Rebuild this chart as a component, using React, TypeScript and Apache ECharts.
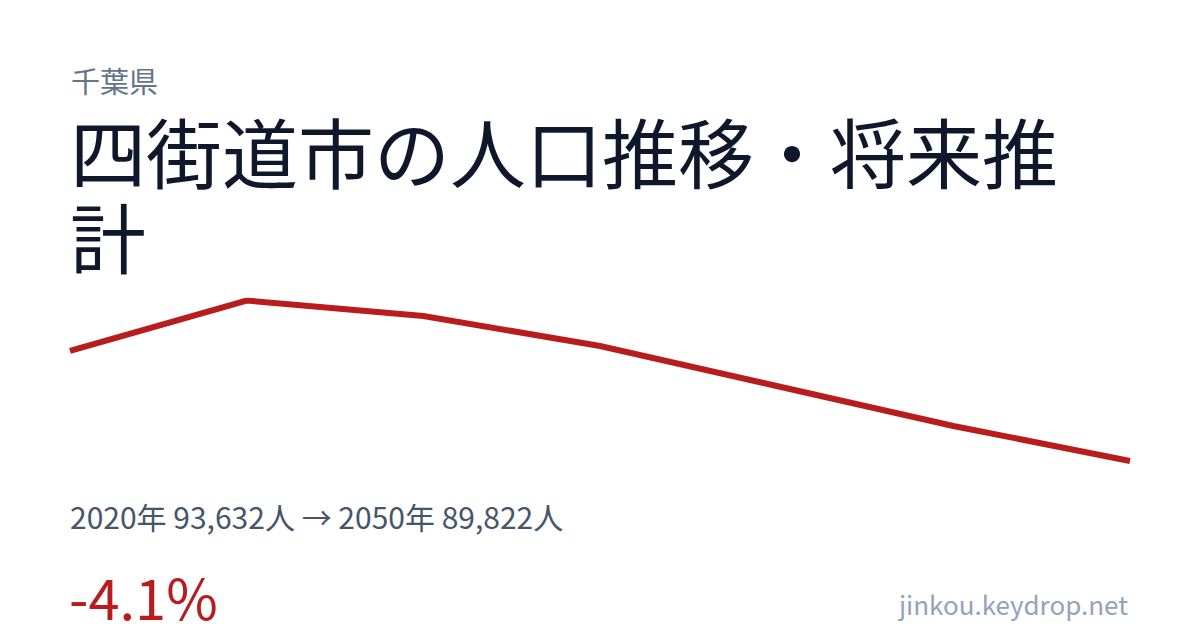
import React, { useEffect, useRef } from "react";
import * as echarts from "echarts";

const years = ["2020", "2025", "2030", "2035", "2040", "2045", "2050"];
const population = [93632, 95380, 94845, 93805, 92420, 91035, 89822];

const prefecture = "千葉県";
const titleLine1 = "四街道市の人口推移・将来推";
const titleLine2 = "計";
const statsText = "2020年 93,632人 → 2050年 89,822人";
const changeText = "-4.1%";
const siteText = "jinkou.keydrop.net";

const FONT = '"Noto Sans CJK JP", "Noto Sans", sans-serif';

export default function App() {
  const ref = useRef<HTMLDivElement>(null);
  useEffect(() => {
    if (!ref.current) return;
    const chart = echarts.init(ref.current, undefined, { renderer: "svg" });
    chart.setOption({
      animation: false,
      backgroundColor: "#ffffff",
      grid: { left: 70, right: 70, top: 300.5, bottom: 169 },
      xAxis: {
        type: "category",
        data: years,
        boundaryGap: false,
        show: false,
      },
      yAxis: {
        type: "value",
        min: "dataMin",
        max: "dataMax",
        show: false,
      },
      series: [
        {
          type: "line",
          data: population,
          symbol: "none",
          lineStyle: { color: "#b91c1c", width: 6, cap: "butt", join: "miter" },
          silent: true,
        },
      ],
      graphic: [
        {
          type: "text",
          x: 71,
          y: 80,
          style: {
            text: prefecture,
            fill: "#64748b",
            font: `29px ${FONT}`,
            verticalAlign: "middle",
            align: "left",
          },
        },
        {
          type: "text",
          x: 70,
          y: 150,
          style: {
            text: titleLine1,
            fill: "#0f172a",
            font: `76px ${FONT}`,
            verticalAlign: "middle",
            align: "left",
          },
        },
        {
          type: "text",
          x: 70,
          y: 235,
          style: {
            text: titleLine2,
            fill: "#0f172a",
            font: `76px ${FONT}`,
            verticalAlign: "middle",
            align: "left",
          },
        },
        {
          type: "text",
          x: 70,
          y: 516,
          style: {
            text: statsText,
            fill: "#475569",
            font: `30px ${FONT}`,
            verticalAlign: "middle",
            align: "left",
          },
        },
        {
          type: "text",
          x: 69,
          y: 595,
          style: {
            text: changeText,
            fill: "#b91c1c",
            font: `56px ${FONT}`,
            verticalAlign: "middle",
            align: "left",
          },
        },
        {
          type: "text",
          x: 1128,
          y: 603,
          style: {
            text: siteText,
            fill: "#94a3b8",
            font: `26px ${FONT}`,
            verticalAlign: "middle",
            align: "right",
          },
        },
      ],
    });
    return () => chart.dispose();
  }, []);
  return (
    <div
      ref={ref}
      style={{ position: "absolute", left: 0, top: 0, width: 1200, height: 630 }}
    />
  );
}
